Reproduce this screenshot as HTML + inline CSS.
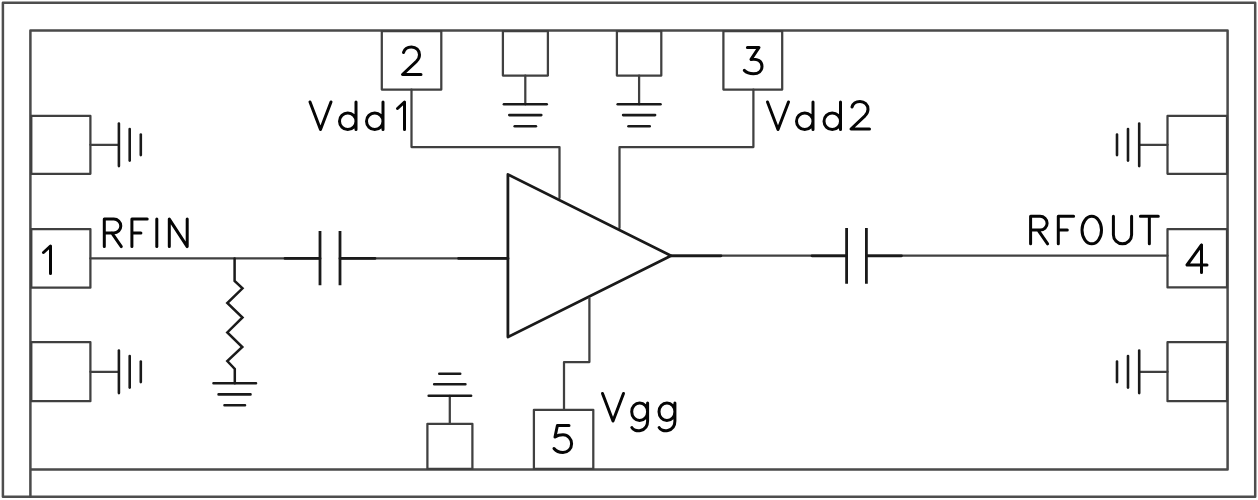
<!DOCTYPE html>
<html><head><meta charset="utf-8"><title>Amplifier pinout</title>
<style>html,body{margin:0;padding:0;background:#fff;width:1258px;height:500px;overflow:hidden}svg{display:block}</style>
</head><body><svg width="1258" height="500" viewBox="0 0 1258 500"><rect width="1258" height="500" fill="#fff"/><g fill="none" stroke-linecap="round" stroke-linejoin="round"><path d="M2.9,2.7H1255.2V496.8H2.9Z" stroke="#4e4e4e" stroke-width="2.5" /><path d="M30.4,496.8V30.4H1227.6V469.5H30.4" stroke="#4a4a4a" stroke-width="2.5" /><path d="M381.8,31.2H441.3V89.6H381.8Z" stroke="#404040" stroke-width="2.25" /><path d="M723.4,31.2H782.2V89.6H723.4Z" stroke="#404040" stroke-width="2.25" /><path d="M502.9,31.2H547.9V75.5H502.9Z" stroke="#404040" stroke-width="2.25" /><path d="M525.3,75.5V104.3" stroke="#404040" stroke-width="2.25" /><path d="M503.9,104.3H546.6999999999999" stroke="#1a1a1a" stroke-width="2.6" /><path d="M509.29999999999995,115.1H541.3" stroke="#1a1a1a" stroke-width="2.6" /><path d="M514.6999999999999,126.3H535.9" stroke="#1a1a1a" stroke-width="2.6" /><path d="M616.9,31.2H661.3V75.5H616.9Z" stroke="#404040" stroke-width="2.25" /><path d="M639.1,75.5V104.3" stroke="#404040" stroke-width="2.25" /><path d="M617.7,104.3H660.5" stroke="#1a1a1a" stroke-width="2.6" /><path d="M623.1,115.1H655.1" stroke="#1a1a1a" stroke-width="2.6" /><path d="M628.5,126.3H649.7" stroke="#1a1a1a" stroke-width="2.6" /><path d="M411.5,89.6V147H559.5V198" stroke="#404040" stroke-width="2.25" /><path d="M753.4,89.6V147H619.5V228" stroke="#404040" stroke-width="2.25" /><path d="M31.3,115.9H90.4V173.8H31.3Z" stroke="#404040" stroke-width="2.25" /><path d="M90.4,144.8H118.9" stroke="#404040" stroke-width="2.25" /><path d="M118.9,123.50000000000001V166.10000000000002" stroke="#1a1a1a" stroke-width="2.6" /><path d="M129.7,129.0V160.60000000000002" stroke="#1a1a1a" stroke-width="2.6" /><path d="M140.8,134.5V155.10000000000002" stroke="#1a1a1a" stroke-width="2.6" /><path d="M31.3,342.2H90.4V401.2H31.3Z" stroke="#404040" stroke-width="2.25" /><path d="M90.4,371.8H118.9" stroke="#404040" stroke-width="2.25" /><path d="M118.9,350.5V393.1" stroke="#1a1a1a" stroke-width="2.6" /><path d="M129.7,356.0V387.6" stroke="#1a1a1a" stroke-width="2.6" /><path d="M140.8,361.5V382.1" stroke="#1a1a1a" stroke-width="2.6" /><path d="M1167.5,115.9H1227V173.8H1167.5Z" stroke="#404040" stroke-width="2.25" /><path d="M1167.5,144.8H1139.2" stroke="#404040" stroke-width="2.25" /><path d="M1139.2,123.50000000000001V166.10000000000002" stroke="#1a1a1a" stroke-width="2.6" /><path d="M1128,129.0V160.60000000000002" stroke="#1a1a1a" stroke-width="2.6" /><path d="M1117,134.5V155.10000000000002" stroke="#1a1a1a" stroke-width="2.6" /><path d="M1167.5,342.2H1227V401.2H1167.5Z" stroke="#404040" stroke-width="2.25" /><path d="M1167.5,371.8H1139.2" stroke="#404040" stroke-width="2.25" /><path d="M1139.2,350.5V393.1" stroke="#1a1a1a" stroke-width="2.6" /><path d="M1128,356.0V387.6" stroke="#1a1a1a" stroke-width="2.6" /><path d="M1117,361.5V382.1" stroke="#1a1a1a" stroke-width="2.6" /><path d="M31.3,229H90.4V287.7H31.3Z" stroke="#404040" stroke-width="2.25" /><path d="M90.4,258.4H320M340,258.4H508" stroke="#404040" stroke-width="2.25" /><path d="M285,258.4H320M340,258.4H375M458.6,258.4H508" stroke="#1a1a1a" stroke-width="2.8" /><path d="M320,231V285.3M340,231V285.3" stroke="#1a1a1a" stroke-width="2.8" stroke-linecap="butt" /><path d="M234.6,258.4V281L242.5,288.3L227.3,303L242.5,317.5L227.3,332.4L242.3,347L227.3,361L234.8,369V383.3" stroke="#1a1a1a" stroke-width="2.5" stroke-linejoin="miter"/><path d="M213.5,383.3H256M218.6,394.4H250.5M224.5,405.2H245" stroke="#1a1a1a" stroke-width="2.6" /><path d="M507.9,174.4L671,255.7L507.9,337Z" stroke="#1a1a1a" stroke-width="2.8" /><path d="M671,255.7H846.6M866.4,255.7H1167.5" stroke="#404040" stroke-width="2.25" /><path d="M671,255.8H721M812,255.8H846.6M866.4,255.8H901.5" stroke="#1a1a1a" stroke-width="2.8" /><path d="M846.6,227.9V283.7M866.4,227.9V283.7" stroke="#1a1a1a" stroke-width="2.8" stroke-linecap="butt" /><path d="M1167.5,229H1227V287.4H1167.5Z" stroke="#404040" stroke-width="2.25" /><path d="M589.4,298V362H564V409.8" stroke="#404040" stroke-width="2.25" /><path d="M533.9,409.8H593.3V468.9H533.9Z" stroke="#404040" stroke-width="2.25" /><path d="M427.4,423.8H472.4V468.9H427.4Z" stroke="#404040" stroke-width="2.25" /><path d="M449.8,423.8V395.8" stroke="#404040" stroke-width="2.25" /><path d="M428.7,395.8H471.1M434.2,384.3H465.4M439.3,373.8H460.2" stroke="#1a1a1a" stroke-width="2.6" /><path transform="translate(402.5,47)" d="M1,5.5C2,2 5,0 9,0C13.5,0 17,3.2 17,7.8C17,10.5 15.8,12.5 14,14.3L0,27.5H18.5" stroke="#050505" stroke-width="3.0"/><path transform="translate(744,47.4)" d="M3.4,0H15L7,12C13.5,10.8 18,14 18,19C18,23.5 14.5,26.3 9.5,26.3C5.5,26.3 2.3,25 0.3,23" stroke="#050505" stroke-width="3.0"/><path transform="translate(50.5,246)" d="M-7,6.5L0,0V27.5" stroke="#050505" stroke-width="3.0"/><path transform="translate(1187,244.5)" d="M14.5,0.5L0,20.5H20M14.5,0.5V28" stroke="#050505" stroke-width="3.0"/><path transform="translate(554,425.5)" d="M15,0H3.4L1,11.5C4,9.5 7,9.3 9,9.3C14,9.3 17.6,13.5 17.6,18.2C17.6,23.2 13.8,27 9,27C5,27 2,25.5 0,23" stroke="#050505" stroke-width="3.0"/><path transform="translate(310,102)" d="M0,0L10.5,27.5L21,0" stroke="#050505" stroke-width="3.0"/><path transform="translate(339.5,102)" d="M16.5,0V27.5M16.5,19.25A8.25,8.25 0 0 0 0,19.25A8.25,8.25 0 0 0 16.5,19.25" stroke="#050505" stroke-width="3.0"/><path transform="translate(366.5,102)" d="M16.5,0V27.5M16.5,19.25A8.25,8.25 0 0 0 0,19.25A8.25,8.25 0 0 0 16.5,19.25" stroke="#050505" stroke-width="3.0"/><path transform="translate(404.5,102)" d="M-7,6.5L0,0V27.5" stroke="#050505" stroke-width="3.0"/><path transform="translate(767.5,102)" d="M0,0L10.5,27.5L21,0" stroke="#050505" stroke-width="3.0"/><path transform="translate(796.5,102)" d="M16.5,0V27.5M16.5,19.25A8.25,8.25 0 0 0 0,19.25A8.25,8.25 0 0 0 16.5,19.25" stroke="#050505" stroke-width="3.0"/><path transform="translate(824,102)" d="M16.5,0V27.5M16.5,19.25A8.25,8.25 0 0 0 0,19.25A8.25,8.25 0 0 0 16.5,19.25" stroke="#050505" stroke-width="3.0"/><path transform="translate(851,101.5)" d="M1,5.5C2,2 5,0 9,0C13.5,0 17,3.2 17,7.8C17,10.5 15.8,12.5 14,14.3L0,27.5H18.5" stroke="#050505" stroke-width="3.0"/><path transform="translate(104.3,219.1)" d="M0,27.5V0H9.5A7,6.9 0 0 1 9.5,13.8H0M7.5,13.8L17,27.5" stroke="#050505" stroke-width="3.0"/><path transform="translate(131.9,219.1)" d="M15.3,0H0V27.5M0,13.8H9" stroke="#050505" stroke-width="3.0"/><path transform="translate(156.8,219.1)" d="M0,0V27.5" stroke="#050505" stroke-width="3.0"/><path transform="translate(169.3,219.1)" d="M0,27.5V0L17.9,27.5V0" stroke="#050505" stroke-width="3.0"/><path transform="translate(1030.6,216.3)" d="M0,27.5V0H9.5A7,6.9 0 0 1 9.5,13.8H0M7.5,13.8L17,27.5" stroke="#050505" stroke-width="3.0"/><path transform="translate(1058.3,216.3)" d="M15.3,0H0V27.5M0,13.8H9" stroke="#050505" stroke-width="3.0"/><path transform="translate(1082,216.3)" d="M0,13.75A9.75,13.75 0 1 0 19.5,13.75A9.75,13.75 0 1 0 0,13.75" stroke="#050505" stroke-width="3.0"/><path transform="translate(1113.4,216.3)" d="M0,0V18.5A9.1,9 0 0 0 18.2,18.5V0" stroke="#050505" stroke-width="3.0"/><path transform="translate(1140.4,216.3)" d="M0,0H17.9M8.95,0V27.5" stroke="#050505" stroke-width="3.0"/><path transform="translate(602.5,393.5)" d="M0,0L10.5,27.5L21,0" stroke="#050505" stroke-width="3.0"/><path transform="translate(631.7,393.5)" d="M15.9,9.5V27.5C15.9,39 2.3,39 0.1,34M15.9,18.25A7.95,8.75 0 0 0 0,18.25A7.95,8.75 0 0 0 15.9,18.25" stroke="#050505" stroke-width="3.0"/><path transform="translate(659,393.5)" d="M15.9,9.5V27.5C15.9,39 2.3,39 0.1,34M15.9,18.25A7.95,8.75 0 0 0 0,18.25A7.95,8.75 0 0 0 15.9,18.25" stroke="#050505" stroke-width="3.0"/></g></svg></body></html>
